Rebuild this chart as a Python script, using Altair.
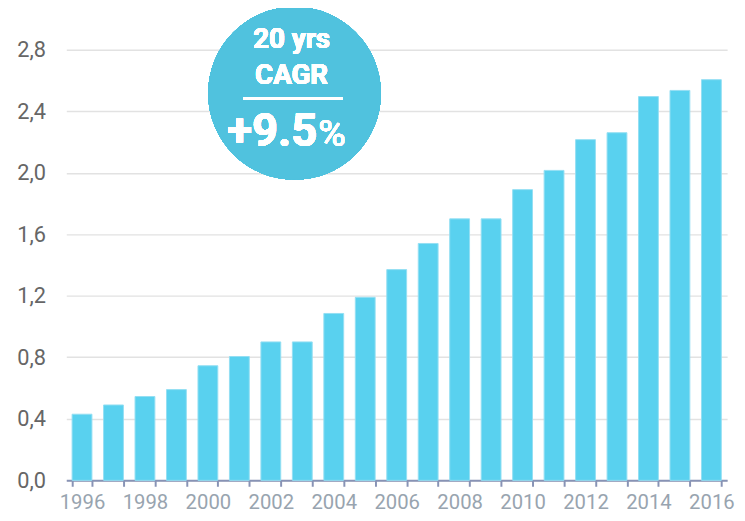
import altair as alt
import pandas as pd

years = [str(y) for y in range(1996, 2017)]
values = [0.43, 0.49, 0.545, 0.59, 0.745, 0.805, 0.90, 0.90, 1.085, 1.19,
          1.37, 1.54, 1.70, 1.70, 1.89, 2.015, 2.215, 2.26, 2.495, 2.535, 2.605]
y_ticks = [0.0, 0.4, 0.8, 1.2, 1.6, 2.0, 2.4, 2.8]

badge_title = ["20 yrs", "CAGR"]
badge_value = "+9.5"
badge_unit = "%"

df = pd.DataFrame({"year": years, "value": values})

FONT = "Roboto"
BAR = "#59D1EF"
BADGE = "#50C2DE"

x_enc = alt.X("year:O",
              scale=alt.Scale(paddingInner=0.37, paddingOuter=0.185),
              axis=alt.Axis(title=None, labelAngle=0,
                            labelExpr="toNumber(datum.value) % 2 == 0 ? datum.label : ''",
                            tickBand="extent", domainColor="#8893b5", domainWidth=2,
                            tickColor="#8893b5", tickWidth=2, tickSize=6,
                            labelColor="#98a4af", labelFontSize=20.5, labelPadding=6,
                            labelFont=FONT, grid=False))
y_enc = alt.Y("value:Q",
              scale=alt.Scale(domain=[0, 2.8]),
              axis=alt.Axis(title=None, values=y_ticks,
                            labelExpr="replace(format(datum.value, '.1f'), '.', ',')",
                            domain=False, ticks=False, labelPadding=21,
                            labelFontSize=22, labelColor="#666666", labelFont=FONT,
                            grid=True, gridColor="#e2e2e2", gridWidth=1.5))

bars = alt.Chart(df).mark_bar(color=BAR, stroke="#93def3", strokeWidth=1).encode(
    x=x_enc, y=y_enc)

anchor_x = alt.datum("2002")
anchor_y = alt.datum(2.51)

circle = alt.Chart(df).mark_circle(size=30600, color=BADGE, opacity=1, xOffset=24,
                                   yOffset=-1).encode(x=anchor_x, y=anchor_y)

t1 = alt.Chart(df).mark_text(text=badge_title[0], font=FONT, fontSize=28, fontWeight="bold",
                             color="white", baseline="alphabetic", align="center",
                             dx=21, dy=-46.5).encode(x=anchor_x, y=anchor_y)
t2 = alt.Chart(df).mark_text(text=badge_title[1], font=FONT, fontSize=28, fontWeight="bold",
                             color="white", baseline="alphabetic", align="center",
                             dx=21, dy=-10.5).encode(x=anchor_x, y=anchor_y)
line = alt.Chart(df).mark_rule(color="white", strokeWidth=2.5, xOffset=-28, x2Offset=73,
                               yOffset=4.5, y2Offset=4.5).encode(
    x=anchor_x, x2=alt.datum("2002"), y=anchor_y)
t3 = alt.Chart(df).mark_text(text=badge_value, font=FONT, fontSize=46, fontWeight="bold",
                             color="white", baseline="alphabetic", align="right",
                             dx=47, dy=52.5).encode(x=anchor_x, y=anchor_y)
t4 = alt.Chart(df).mark_text(text=badge_unit, font=FONT, fontSize=38, fontWeight="normal",
                             color="white", baseline="alphabetic", align="left",
                             dx=48, dy=52.5).encode(x=anchor_x, y=anchor_y)

chart = alt.layer(bars, circle, t1, t2, line, t3, t4).properties(
    width=669, height=436,
    autosize=alt.AutoSizeParams(type="none"),
    padding={"left": 59, "top": 39, "right": 10, "bottom": 40},
).configure_view(stroke=None)

chart.save("out.html", embed_options={"renderer": "svg", "actions": False})
